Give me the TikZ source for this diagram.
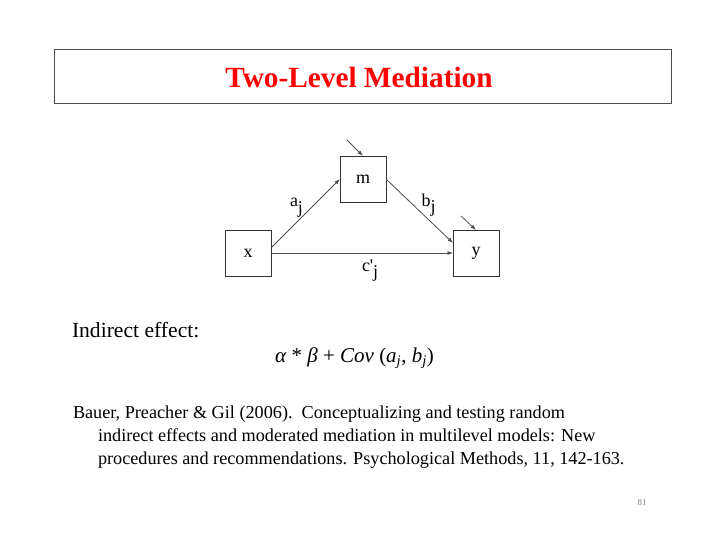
\documentclass[tikz,border=0pt]{standalone}
\usepackage{fontspec}
\setmainfont{Liberation Serif}
\usepackage{tikz}
\usetikzlibrary{arrows.meta}
\newcommand{\lowj}[1][6.5pt]{\raisebox{-#1}{j}}

\begin{document}
\begin{tikzpicture}[x=1pt, y=-1pt,
    every node/.style={inner sep=0pt, outer sep=0pt},
    varbox/.style={draw=black!80, line width=0.8pt, minimum width=46pt, minimum height=46pt, font=\fontsize{18}{18}\selectfont},
    coef/.style={anchor=base west, font=\fontsize{18}{18}\selectfont},
    path/.style={draw=black!70, line width=0.8pt, -{Latex[length=5.5pt,width=4pt]}}]

	\useasboundingbox (0,0) rectangle (720,557);

	% title
	\node[draw=black!70, line width=1pt, minimum width=617pt, minimum height=54pt] (T) at (362.5,76) {};
	\node[text=red, font=\fontsize{29.3}{29.3}\selectfont\bfseries] (title) at (359,77) {Two-Level Mediation};

	% variables
	\node[varbox] (m) at (363,179) {m};
	\node[varbox] (x) at (248,253) {x};
	\node[varbox] (y) at (476,253) {y};

	\coordinate (em) at (347,140);
	\coordinate (ey) at (461,216);

	\draw[path] ([yshift=5pt]x.east) -- (m.west);
	\draw[path] (m.east) -- ([yshift=10pt]y.west);
	\draw[path] (x.east) -- (y.west);
	\draw[path] (em) -- (m.north);
	\draw[path] (ey) -- (y.north);

	\node[coef] (aj) at (290,206.5) {a\lowj};
	\node[coef] (bj) at (421.5,206) {b\lowj};
	\node[coef] (cj) at (362,271) {c\textquotesingle\lowj[6pt]};

	% text
	\node[anchor=base west, font=\fontsize{21.6}{21.6}\selectfont] (ind) at (72,337) {Indirect effect:};
	\node[anchor=base west, font=\fontsize{21}{21}\selectfont] (eq) at (275,362)
	  {\textit{α} * \textit{β} + \textit{Cov} (\textit{a}\textsubscript{\textit{j}}, \textit{b}\textsubscript{\textit{j}})};

	% reference, anchored at the baseline of its last line
	\node[anchor=base west, align=left, font=\fontsize{18.2}{23}\selectfont] (ref) at (73,464)
	  {Bauer, Preacher \& Gil (2006).\ \ Conceptualizing and testing random\\
	   \hspace*{25pt}indirect effects and moderated mediation in multilevel models: New\\
	   \hspace*{25pt}procedures and recommendations. Psychological Methods, 11, 142-163.};

	\node[text=black!50, font=\fontsize{9}{9}\selectfont] (pg) at (642,503) {81};
\end{tikzpicture}
\end{document}
